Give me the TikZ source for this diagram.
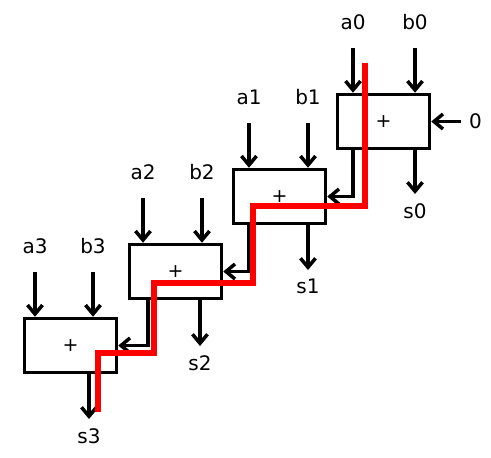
\documentclass[tikz,border=0pt]{standalone}
\usepackage{fontspec}
\setmainfont{DejaVu Sans}
\usetikzlibrary{arrows.meta,positioning}

\begin{document}
\begin{tikzpicture}[x=1pt, y=-1pt,
    adder/.style={draw, fill=white, line width=3.5pt, minimum width=92pt, minimum height=54pt, inner sep=0pt, font=\fontsize{19}{21}\selectfont},
    lbl/.style={inner sep=0pt, font=\fontsize{20}{24}\selectfont},
    arrow/.style={-{Straight Barb[length=9pt,width=15pt]}, line width=3.5pt},
    critical/.style={draw=red, line width=6.5pt}
]
\useasboundingbox (0,0) rectangle (491,458);

% ripple carry adders
\node[adder] (add0) at (383.5,121.5) {+};
\node[adder] (add1) at (279.5,196.5) {+};
\node[adder] (add2) at (175.5,271.5) {+};
\node[adder] (add3) at (70.5,345.5) {+};

% input arrows
\coordinate (ia0) at (353,48);
\coordinate (ib0) at (415,48);
\coordinate (ia1) at (249,123);
\coordinate (ib1) at (308,123);
\coordinate (ia2) at (143,198);
\coordinate (ib2) at (202,198);
\coordinate (ia3) at (35,272);
\coordinate (ib3) at (93,272);

\node[lbl, above=18pt of ia0] (a0) {a0};
\node[lbl, above=18pt of ib0] (b0) {b0};
\node[lbl, above=18pt of ia1] (a1) {a1};
\node[lbl, above=18pt of ib1] (b1) {b1};
\node[lbl, above=18pt of ia2] (a2) {a2};
\node[lbl, above=18pt of ib2] (b2) {b2};
\node[lbl, above=18pt of ia3] (a3) {a3};
\node[lbl, above=18pt of ib3] (b3) {b3};

\draw[arrow] (ia0) -- (ia0 |- add0.north);
\draw[arrow] (ib0) -- (ib0 |- add0.north);
\draw[arrow] (ia1) -- (ia1 |- add1.north);
\draw[arrow] (ib1) -- (ib1 |- add1.north);
\draw[arrow] (ia2) -- (ia2 |- add2.north);
\draw[arrow] (ib2) -- (ib2 |- add2.north);
\draw[arrow] (ia3) -- (ia3 |- add3.north);
\draw[arrow] (ib3) -- (ib3 |- add3.north);

% carry in
\coordinate (ci) at (461,121.5);
\node[lbl, right=8pt of ci] (c0) {0};
\draw[arrow] (ci) -- (add0.east);

% sum outputs
\coordinate (os0) at (415,194);
\coordinate (os1) at (308,270);
\coordinate (os2) at (200,346);
\coordinate (os3) at (89,419);

\node[lbl, below=9pt of os0] (s0) {s0};
\node[lbl, below=9pt of os1] (s1) {s1};
\node[lbl, below=9pt of os2] (s2) {s2};
\node[lbl, below=9pt of os3] (s3) {s3};

\draw[arrow] (add0.south -| os0) -- (os0);
\draw[arrow] (add1.south -| os1) -- (os1);
\draw[arrow] (add2.south -| os2) -- (os2);
\draw[arrow] (add3.south -| os3) -- (os3);

% carries
\draw[arrow] (add0.south -| ia0) |- (add1.east);
\draw[arrow] (add1.south -| ia1) |- (add2.east);
\draw[arrow] (add2.south -| 148,0) |- (add3.east);

% critical path
\draw[critical] (365,63) |- (253,206) |- (154,283) |- (98,353) -- (98,412);

\end{tikzpicture}
\end{document}
